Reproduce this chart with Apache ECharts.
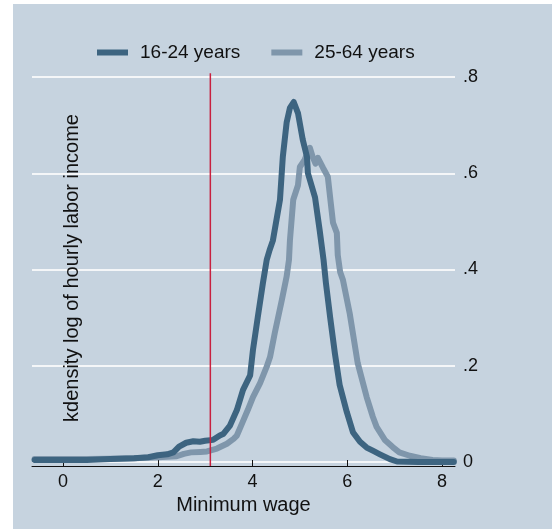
<!DOCTYPE html>
<html>
<head>
<meta charset="utf-8">
<script src="https://cdn.jsdelivr.net/npm/echarts@6/dist/echarts.min.js"></script>
<style>
html,body{margin:0;padding:0;background:#ffffff;width:552px;height:529px;overflow:hidden;}
#chart{position:absolute;left:13px;top:4px;width:539px;height:525px;}
</style>
</head>
<body>
<div id="chart"></div>
<script>
const seriesNames = ["16-24 years", "25-64 years"];
const xTicks = [0, 2, 4, 6, 8];
const yTicks = [0, 0.2, 0.4, 0.6, 0.8];
const minimumWage = 3.11;

// 16-24 years: [log hourly labor income, density]
const young = [
  [-0.6,0.004],[0,0.004],[0.5,0.004],[1.0,0.006],[1.5,0.008],[1.8,0.01],[2.0,0.014],
  [2.2,0.016],[2.33,0.02],[2.45,0.032],[2.6,0.04],[2.75,0.043],[2.89,0.042],[3.0,0.044],
  [3.17,0.046],[3.31,0.055],[3.38,0.058],[3.52,0.075],[3.67,0.108],[3.8,0.15],[3.95,0.18],
  [4.01,0.233],[4.11,0.30],[4.22,0.372],[4.3,0.42],[4.36,0.44],[4.43,0.46],[4.58,0.545],
  [4.64,0.634],[4.72,0.705],[4.79,0.736],[4.87,0.748],[4.96,0.725],[5.06,0.67],[5.15,0.634],
  [5.17,0.6],[5.32,0.55],[5.42,0.48],[5.5,0.42],[5.55,0.372],[5.64,0.30],[5.74,0.225],
  [5.84,0.16],[5.99,0.104],[6.12,0.062],[6.27,0.042],[6.41,0.03],[6.55,0.023],[6.69,0.016],
  [6.9,0.006],[7.05,0.001],[7.5,0.0],[8.0,0.0],[8.25,0.0]
];

// 25-64 years
const adult = [
  [-0.6,0.006],[0,0.006],[0.5,0.006],[1.0,0.007],[1.5,0.008],[2.0,0.01],[2.4,0.012],
  [2.55,0.017],[2.7,0.02],[2.9,0.021],[3.04,0.022],[3.25,0.028],[3.46,0.038],[3.6,0.048],
  [3.67,0.055],[3.8,0.085],[3.9,0.108],[4.01,0.135],[4.16,0.164],[4.3,0.198],[4.37,0.218],
  [4.47,0.268],[4.62,0.337],[4.72,0.385],[4.77,0.42],[4.79,0.46],[4.86,0.545],[4.96,0.575],
  [5.0,0.613],[5.1,0.628],[5.21,0.653],[5.27,0.634],[5.33,0.62],[5.38,0.632],[5.49,0.611],
  [5.59,0.593],[5.65,0.54],[5.7,0.497],[5.78,0.476],[5.8,0.43],[5.85,0.395],[5.91,0.378],
  [6.05,0.31],[6.22,0.206],[6.41,0.135],[6.54,0.094],[6.62,0.073],[6.8,0.045],[6.96,0.031],
  [7.1,0.02],[7.32,0.013],[7.55,0.008],[7.8,0.004],[8.0,0.003],[8.25,0.003]
];

const FONT = "Liberation Sans";
const chart = echarts.init(document.getElementById('chart'));
chart.setOption({
  backgroundColor: '#c6d3df',
  animation: false,
  textStyle: { fontFamily: FONT },
  legend: {
    left: 79, top: 34,
    itemWidth: 31, itemHeight: 6, itemGap: 31,
    icon: 'rect',
    textStyle: { fontSize: 19, color: '#111', fontFamily: FONT, padding: [0, 0, 0, 7] },
    data: seriesNames
  },
  grid: { left: 19, right: 97, top: 73, bottom: 67 },
  xAxis: {
    type: 'value', min: -0.655, max: 8.275, interval: 2,
    offset: 4,
    name: 'Minimum wage', nameLocation: 'middle', nameGap: 23,
    nameTextStyle: { fontSize: 20, color: '#111', fontFamily: FONT },
    axisLine: { show: true, onZero: false, lineStyle: { color: '#111', width: 1 } },
    axisTick: { show: true, inside: true, length: 6, lineStyle: { color: '#111' },
      customValues: xTicks },
    axisLabel: { fontSize: 18, color: '#111', margin: 7, fontFamily: FONT,
      customValues: xTicks, formatter: v => String(v) },
    splitLine: { show: false }
  },
  yAxis: {
    type: 'value', position: 'right', min: 0, max: 0.8, interval: 0.2,
    axisLine: { show: false },
    axisTick: { show: false },
    axisLabel: { fontSize: 18, color: '#111', margin: 8, fontFamily: FONT,
      customValues: yTicks,
      formatter: v => v === 0 ? '0' : String(+v.toFixed(1)).replace(/^0/, '') },
    splitLine: { show: true, lineStyle: { color: '#f4f6f8', width: 2 } }
  },
  graphic: [{
    type: 'text', x: 59, y: 264, rotation: Math.PI / 2, z: 100,
    style: { text: 'kdensity log of hourly labor income', fill: '#111',
      font: '20px "Liberation Sans"', textAlign: 'center', textVerticalAlign: 'middle' }
  }],
  series: [
    {
      name: seriesNames[0], type: 'line', data: young, showSymbol: false, z: 4,
      lineStyle: { color: '#3d6480', width: 6, join: 'round', cap: 'round' },
      itemStyle: { color: '#3d6480' }
    },
    {
      name: seriesNames[1], type: 'line', data: adult, showSymbol: false, z: 3,
      lineStyle: { color: '#7f96ab', width: 6, join: 'round', cap: 'round' },
      itemStyle: { color: '#7f96ab' }
    },
    {
      name: 'minwage', type: 'line', clip: false, showSymbol: false, silent: true, z: 5,
      data: [[minimumWage, -0.0085], [minimumWage, 0.808]],
      lineStyle: { color: '#c8203f', width: 1.5 }
    }
  ]
});
</script>
</body>
</html>
